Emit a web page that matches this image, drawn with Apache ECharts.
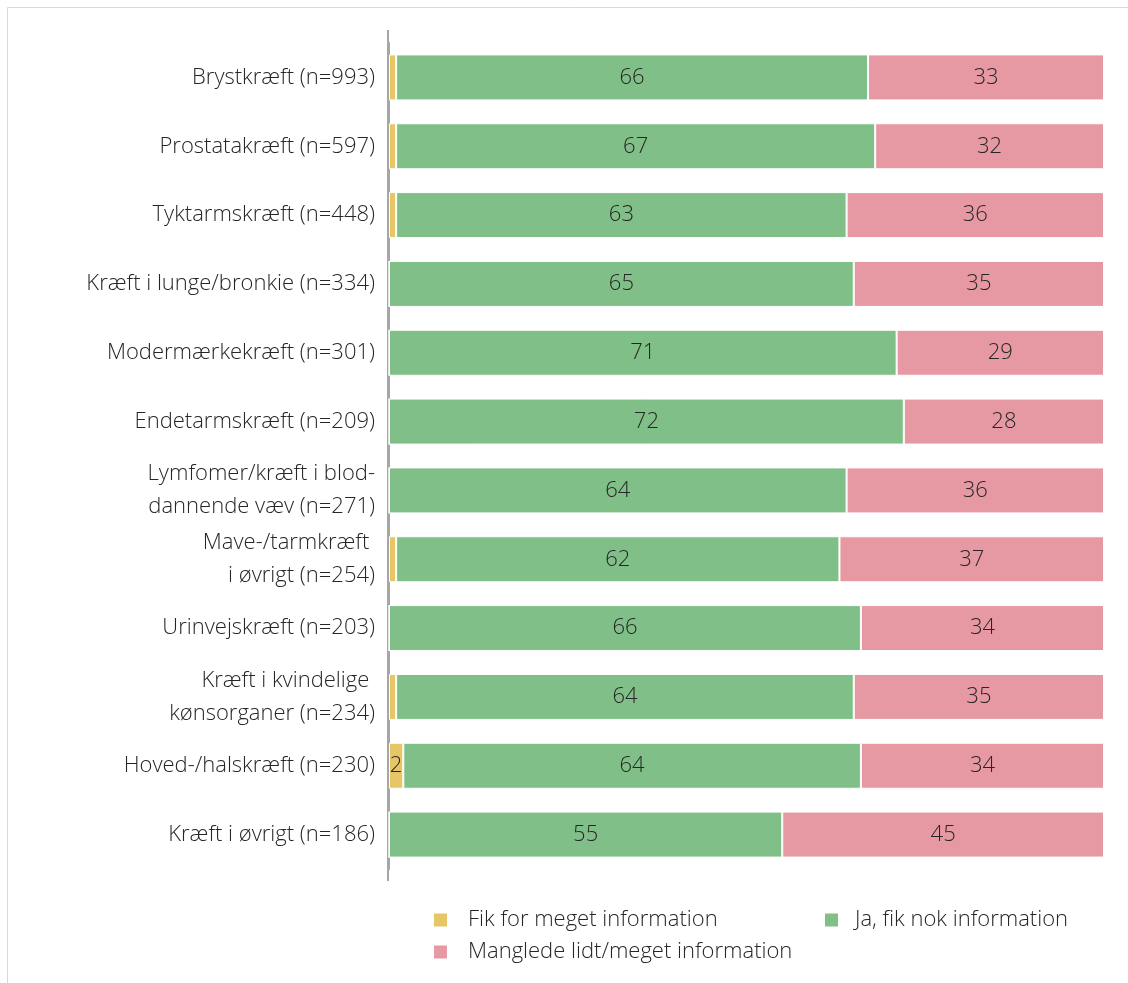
<!DOCTYPE html>
<html>
<head>
<meta charset="utf-8">
<script src="https://cdn.jsdelivr.net/npm/echarts@6/dist/echarts.min.js"></script>
<style>
  html, body { margin: 0; padding: 0; background: #fff; }
  #chart { width: 1128px; height: 983px; }
</style>
</head>
<body>
<div id="chart"></div>
<script>
const categories = [
  'Brystkræft (n=993)',
  'Prostatakræft (n=597)',
  'Tyktarmskræft (n=448)',
  'Kræft i lunge/bronkie (n=334)',
  'Modermærkekræft (n=301)',
  'Endetarmskræft (n=209)',
  'Lymfomer/kræft i blod-\ndannende væv (n=271)',
  'Mave-/tarmkræft \ni øvrigt (n=254)',
  'Urinvejskræft (n=203)',
  'Kræft i kvindelige \nkønsorganer (n=234)',
  'Hoved-/halskræft (n=230)',
  'Kræft i øvrigt (n=186)'
];
const seriesNames = ['Fik for meget information', 'Ja, fik nok information', 'Manglede lidt/meget information'];
const tooMuch = [1, 1, 1, 0, 0, 0, 0, 1, 0, 1, 2, 0];
const enough  = [66, 67, 63, 65, 71, 72, 64, 62, 66, 64, 64, 55];
const lacking = [33, 32, 36, 35, 29, 28, 36, 37, 34, 35, 34, 45];
const colors = ['#E6C667', '#80BF88', '#E699A3'];

const FONT = '"Open Sans", "Noto Sans", sans-serif';
const FS = 22;
const chart = echarts.init(document.getElementById('chart'), null, { renderer: 'canvas' });

function mkSeries(name, data, color, minShow) {
  return {
    name: name,
    type: 'bar',
    stack: 'total',
    data: data,
    barWidth: 46,
    itemStyle: { color: color, borderColor: '#ffffff', borderWidth: 1 },
    label: {
      show: true,
      position: 'inside',
      color: '#262626',
      fontFamily: FONT,
      fontSize: FS,
      fontWeight: 300,
      formatter: p => (p.value >= minShow ? String(p.value) : '')
    },
    emphasis: { disabled: true }
  };
}

const legendText = { fontFamily: FONT, fontSize: FS, fontWeight: 300, color: '#262626', padding: [0, 0, 0, 16] };
const legendBase = {
  orient: 'horizontal',
  itemWidth: 13,
  itemHeight: 13,
  icon: 'rect',
  itemStyle: { borderWidth: 0 },
  textStyle: legendText
};

chart.setOption({
  animation: false,
  backgroundColor: '#ffffff',
  grid: { left: 389, right: 24, top: 43, bottom: 114, containLabel: false },
  xAxis: { type: 'value', min: 0, max: 100, show: false },
  yAxis: {
    type: 'category',
    data: categories,
    inverse: true,
    axisLine: { show: true, lineStyle: { color: '#A6A6A6', width: 2 } },
    axisTick: { show: false },
    splitLine: { show: false },
    axisLabel: {
      margin: 14,
      align: 'right',
      color: '#262626',
      fontFamily: FONT,
      fontSize: FS,
      fontWeight: 300,
      lineHeight: 33
    }
  },
  legend: [
    Object.assign({}, legendBase, { left: 429, top: 904, data: [seriesNames[0]] }),
    Object.assign({}, legendBase, { left: 820, top: 904, data: [seriesNames[1]], textStyle: Object.assign({}, legendText, { padding: [0, 0, 0, 12] }) }),
    Object.assign({}, legendBase, { left: 429, top: 936, data: [seriesNames[2]] })
  ],
  graphic: [{
    type: 'rect',
    shape: { x: 7.5, y: 7.5, width: 1200, height: 1100 },
    style: { fill: 'none', stroke: '#D9D9D9', lineWidth: 1 },
    silent: true
  }, {
    type: 'line',
    shape: { x1: 388, y1: 30, x2: 388, y2: 881 },
    style: { stroke: '#A6A6A6', lineWidth: 2 },
    silent: true
  }],
  series: [
    mkSeries(seriesNames[0], tooMuch, colors[0], 2),
    mkSeries(seriesNames[1], enough, colors[1], 0),
    mkSeries(seriesNames[2], lacking, colors[2], 0)
  ]
});
</script>
</body>
</html>
